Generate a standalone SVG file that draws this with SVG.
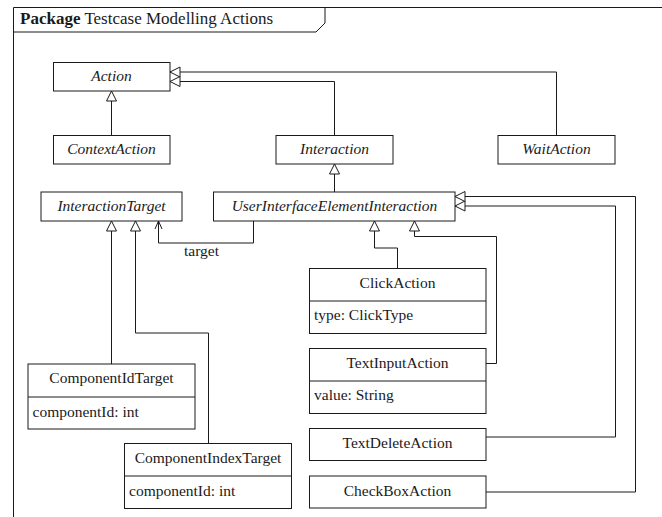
<svg xmlns="http://www.w3.org/2000/svg" width="662" height="517" viewBox="0 0 662 517" font-family="Liberation Serif, Times New Roman, serif">
  <style>
    .box { fill: #ffffff; stroke: #1a1a1a; stroke-width: 1; }
    .line { fill: none; stroke: #1a1a1a; stroke-width: 1; }
    text { font-size: 15.5px; fill: #1a1a1a; }
    .abs { font-style: italic; }
    .c { text-anchor: middle; }
    .b { font-weight: bold; }
    .title { font-size: 17px; }
  </style>
  <defs>
    <marker id="gen" markerUnits="userSpaceOnUse" markerWidth="12" markerHeight="12" viewBox="-1 -1 12 12" refX="10" refY="5" orient="auto">
      <path d="M0,0 L10,5 L0,10 Z" fill="#ffffff" stroke="#1a1a1a" stroke-width="1"/>
    </marker>
    <marker id="open" markerUnits="userSpaceOnUse" markerWidth="10" markerHeight="10" viewBox="-1 -1 10 10" refX="8" refY="4" orient="auto">
      <path d="M0,0.5 L8,4 L0,7.5" fill="none" stroke="#1a1a1a" stroke-width="1"/>
    </marker>
  </defs>

  <!-- package frame -->
  <g id="package">
    <path class="line" d="M13.5,517 V7.5 H662"/>
    <path class="line" d="M13.5,32 H316 L325,23 V7.5"/>
    <text x="20" y="23.5" class="title"><tspan class="b">Package</tspan> Testcase Modelling Actions</text>
  </g>

  <!-- connectors -->
  <g id="connectors">
    <path class="line" marker-end="url(#gen)" d="M111.5,135 V91"/>
    <path class="line" marker-end="url(#gen)" d="M334.5,135 V81.5 H170"/>
    <path class="line" marker-end="url(#gen)" d="M556.5,135 V72 H170"/>
    <path class="line" marker-end="url(#gen)" d="M334.5,192 V164"/>
    <path class="line" marker-end="url(#gen)" d="M111.5,364 V221"/>
    <path class="line" marker-end="url(#gen)" d="M208.5,443 V333 H135.5 V221"/>
    <path class="line" marker-end="url(#open)" d="M253.5,221 V243 H158.5 V221"/>
    <text x="201.5" y="256" class="c">target</text>
    <path class="line" marker-end="url(#gen)" d="M397.5,268 V248 H374.5 V221"/>
    <path class="line" marker-end="url(#gen)" d="M486,363.5 H496.5 V236.5 H414.5 V221"/>
    <path class="line" marker-end="url(#gen)" d="M486,437 H615.5 V206 H455"/>
    <path class="line" marker-end="url(#gen)" d="M486,492 H635.5 V196.5 H455"/>
  </g>

  <g id="Action">
    <rect class="box" x="53.5" y="62.5" width="116.5" height="28.5"/>
    <text x="111.5" y="80.5" class="c abs">Action</text>
  </g>
  <g id="ContextAction">
    <rect class="box" x="53.5" y="135.5" width="116.5" height="28.5"/>
    <text x="111.5" y="154" class="c abs">ContextAction</text>
  </g>
  <g id="Interaction">
    <rect class="box" x="276" y="135.5" width="117" height="28.5"/>
    <text x="334.5" y="154" class="c abs">Interaction</text>
  </g>
  <g id="WaitAction">
    <rect class="box" x="498" y="135.5" width="117" height="28.5"/>
    <text x="556.5" y="154" class="c abs">WaitAction</text>
  </g>
  <g id="InteractionTarget">
    <rect class="box" x="41" y="192" width="141" height="29"/>
    <text x="111.5" y="211" class="c abs">InteractionTarget</text>
  </g>
  <g id="UserInterfaceElementInteraction">
    <rect class="box" x="213.5" y="192" width="241.5" height="29"/>
    <text x="334.5" y="211" class="c abs">UserInterfaceElementInteraction</text>
  </g>
  <g id="ComponentIdTarget">
    <rect class="box" x="28" y="364" width="167" height="65"/>
    <path class="line" d="M28,397 H195"/>
    <text x="111.5" y="383" class="c">ComponentIdTarget</text>
    <text x="32.5" y="416.5">componentId: int</text>
  </g>
  <g id="ComponentIndexTarget">
    <rect class="box" x="124.5" y="443.5" width="167" height="65"/>
    <path class="line" d="M124.5,476 H291.5"/>
    <text x="208" y="462.5" class="c">ComponentIndexTarget</text>
    <text x="129" y="495.5">componentId: int</text>
  </g>
  <g id="ClickAction">
    <rect class="box" x="309.5" y="268.5" width="176.5" height="65"/>
    <path class="line" d="M309.5,301 H486"/>
    <text x="397.5" y="287.5" class="c">ClickAction</text>
    <text x="314" y="320">type: ClickType</text>
  </g>
  <g id="TextInputAction">
    <rect class="box" x="309.5" y="348.5" width="176.5" height="65"/>
    <path class="line" d="M309.5,381 H486"/>
    <text x="397.5" y="367.5" class="c">TextInputAction</text>
    <text x="314" y="400">value: String</text>
  </g>
  <g id="TextDeleteAction">
    <rect class="box" x="309.5" y="428.5" width="176.5" height="32"/>
    <text x="397.5" y="448" class="c">TextDeleteAction</text>
  </g>
  <g id="CheckBoxAction">
    <rect class="box" x="309.5" y="476" width="176.5" height="32"/>
    <text x="397.5" y="495.5" class="c">CheckBoxAction</text>
  </g>
</svg>
